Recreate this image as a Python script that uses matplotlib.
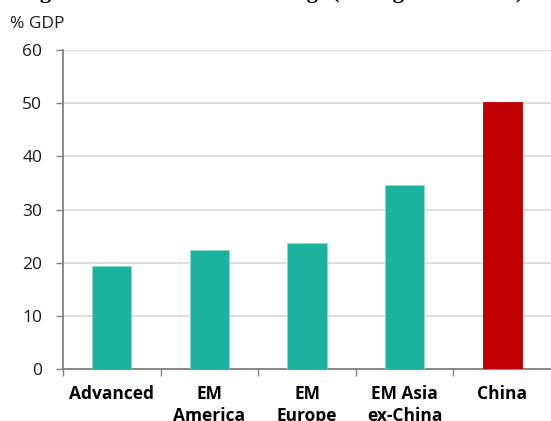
import matplotlib.pyplot as plt
import numpy as np

# Gross national savings by region, % of GDP
regions = ['Advanced', 'EM\nAmerica', 'EM\nEurope', 'EM Asia\nex-China', 'China']
savings = [19.5, 22.5, 23.7, 34.6, 50.2]
bar_colors = ['#1bb39e', '#1bb39e', '#1bb39e', '#1bb39e', '#c00000']
yticks = [0, 10, 20, 30, 40, 50, 60]

plt.rcParams['font.family'] = ['Open Sans', 'DejaVu Sans']

fig = plt.figure(figsize=(5.51, 4.21), dpi=100)
ax = fig.add_axes([63 / 551, 1 - 369.3 / 421, 1 - 63 / 551, (369.3 - 50) / 421])

x = np.arange(len(regions))
bars = ax.bar(x, savings, width=0.4, color=bar_colors, edgecolor='#8fd9cc',
              linewidth=0.6, zorder=3)
bars[-1].set_edgecolor('#c00000')

ax.set_xlim(-0.5, len(regions) - 0.5)
ax.set_ylim(0, 60)
ax.set_yticks(yticks)
ax.yaxis.grid(True, color='#d9d9d9', linewidth=1.2, zorder=0)

ax.set_xticks(x)
ax.set_xticklabels(regions, fontweight='bold', fontsize=12.5, linespacing=1.35, va='top')
ax.set_xticks(np.arange(len(regions)) - 0.5, minor=True)
ax.tick_params(axis='x', which='major', length=0, pad=11)
ax.tick_params(axis='x', which='minor', length=5, color='#808080', width=1)
ax.tick_params(axis='y', length=5, color='#808080', width=1, labelsize=12.5,
               pad=10, labelcolor='#1a1a1a')

for side in ['top', 'right']:
    ax.spines[side].set_visible(False)
for side in ['left', 'bottom']:
    ax.spines[side].set_color('#808080')
    ax.spines[side].set_linewidth(1.3)

fig.text(10 / 551, 1 - 28.5 / 421, '% GDP', fontsize=12.5, color='#1a1a1a')
fig.text(20 / 551, 1 + 2.5 / 421, 'Figure 1: Gross national savings (average 2010-2016)',
         family='Liberation Serif', fontweight='bold', fontsize=16, va='baseline')

fig.savefig('out.png', dpi=100)
